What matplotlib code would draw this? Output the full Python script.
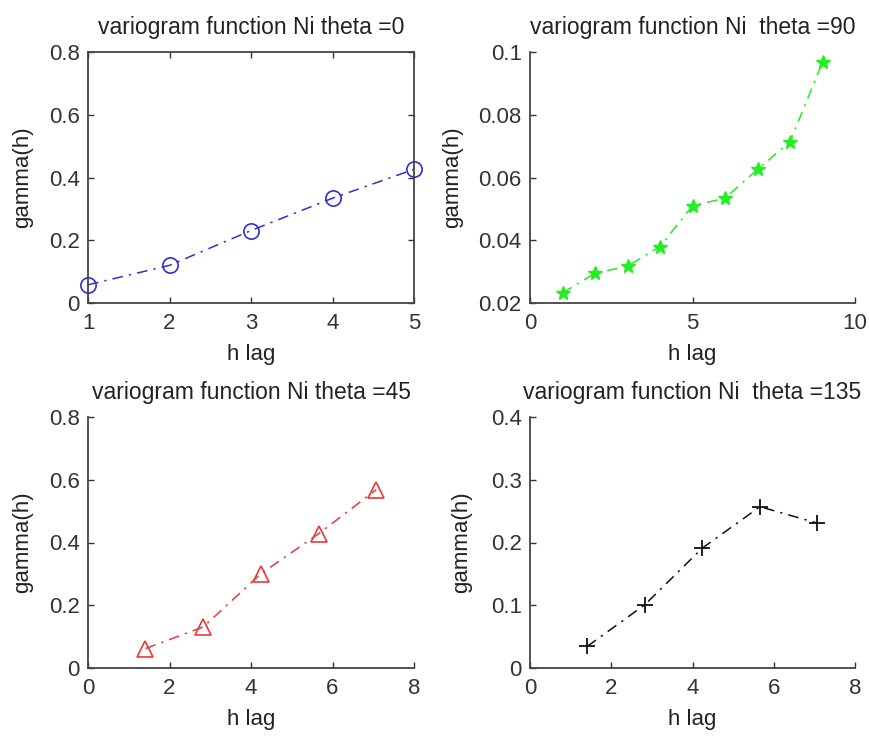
import matplotlib
matplotlib.use("Agg")
import matplotlib.pyplot as plt

plt.rcParams['font.family'] = ['Liberation Sans', 'DejaVu Sans']

# data
h0 = [1, 2, 3, 4, 5]
g0 = [0.058, 0.120, 0.231, 0.334, 0.426]

h90 = [1, 2, 3, 4, 5, 6, 7, 8, 9]
g90 = [0.0232, 0.0295, 0.0317, 0.0380, 0.0510, 0.0534, 0.0626, 0.0714, 0.0968]

h45 = [1.41, 2.83, 4.24, 5.66, 7.07]
g45 = [0.062, 0.131, 0.300, 0.428, 0.568]

h135 = [1.41, 2.83, 4.24, 5.66, 7.07]
g135 = [0.0345, 0.101, 0.191, 0.257, 0.231]

W, H = 869, 736
fig = plt.figure(figsize=(W / 100, H / 100), dpi=100)
DASH = (0, (7, 4, 1.5, 4))


def make_ax(l, r, t, b):
    return fig.add_axes([l / W, 1 - b / H, (r - l) / W, (b - t) / H])


def style(ax, title, box, ylx):
    ax.set_title(title, fontsize=16.5, color='#222222', pad=13)
    ax.set_xlabel('h lag', fontsize=16, color='#222222')
    ax.set_ylabel('gamma(h)', fontsize=16, color='#222222')
    ax.xaxis.set_label_coords(0.5, -0.165)
    ax.yaxis.set_label_coords(ylx, 0.5)
    ax.tick_params(axis='both', direction='in', length=4, labelsize=16,
                   colors='#333333', top=box, right=box, width=1)
    ax.tick_params(axis='x', pad=7)
    ax.tick_params(axis='y', pad=6)
    for s in ax.spines.values():
        s.set_color('#444444')
        s.set_linewidth(1.3)
    if not box:
        ax.spines['top'].set_visible(False)
        ax.spines['right'].set_visible(False)


ax1 = make_ax(88, 414, 52, 303)
ax1.plot(h0, g0, linestyle=DASH, color='#3030d0', marker='o', mfc='none',
         ms=11, mew=1.2, lw=1.1, clip_on=False)
ax1.set_xlim(1, 5)
ax1.set_ylim(0, 0.8)
ax1.set_xticks([1, 2, 3, 4, 5])
ax1.set_yticks([0, 0.2, 0.4, 0.6, 0.8])
ax1.set_yticklabels(['0', '0.2', '0.4', '0.6', '0.8'])
style(ax1, 'variogram function Ni theta =0', True, -0.169)

ax2 = make_ax(530, 855, 52, 303)
ax2.plot(h90, g90, linestyle=DASH, color='#22ee22', marker='*', ms=10,
         mew=1.0, lw=1.1, clip_on=False)
ax2.set_xlim(0, 10)
ax2.set_ylim(0.02, 0.1)
ax2.set_xticks([0, 5, 10])
ax2.set_yticks([0.02, 0.04, 0.06, 0.08, 0.1])
ax2.set_yticklabels(['0.02', '0.04', '0.06', '0.08', '0.1'])
style(ax2, 'variogram function Ni  theta =90', False, -0.206)

ax3 = make_ax(88, 414, 417, 668)
ax3.plot(h45, g45, linestyle=DASH, color='#e83838', marker='^', mfc='none',
         ms=11, mew=1.2, lw=1.1, clip_on=False)
ax3.set_xlim(0, 8)
ax3.set_ylim(0, 0.8)
ax3.set_xticks([0, 2, 4, 6, 8])
ax3.set_yticks([0, 0.2, 0.4, 0.6, 0.8])
ax3.set_yticklabels(['0', '0.2', '0.4', '0.6', '0.8'])
style(ax3, 'variogram function Ni theta =45', False, -0.169)

ax4 = make_ax(530, 855, 417, 668)
ax4.plot(h135, g135, linestyle=DASH, color='#111111', marker='+', ms=12,
         mew=1.3, lw=1.1, clip_on=False)
ax4.set_xlim(0, 8)
ax4.set_ylim(0, 0.4)
ax4.set_xticks([0, 2, 4, 6, 8])
ax4.set_yticks([0, 0.1, 0.2, 0.3, 0.4])
ax4.set_yticklabels(['0', '0.1', '0.2', '0.3', '0.4'])
style(ax4, 'variogram function Ni  theta =135', False, -0.178)

fig.savefig('out.png', dpi=100)
